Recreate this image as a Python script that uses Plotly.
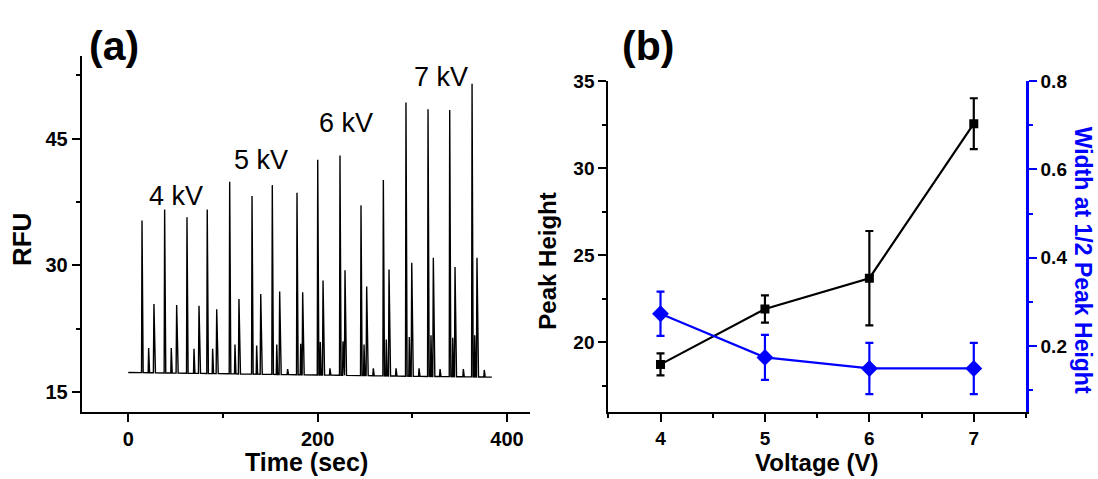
import numpy as np
import plotly.graph_objects as go

# ---------------- Panel (a) data: electropherogram peaks ----------------
major_t = [14.5, 38.4, 62.0, 83.4, 107.1, 130.7, 152.1, 178.2, 200.1, 223.6, 245.8, 269.4, 293.3, 316.6, 339.5, 363.1]
major_h = [35.3, 36.6, 35.7, 36.6, 39.9, 38.2, 39.5, 38.6, 42.5, 43.0, 37.1, 40.1, 49.3, 48.5, 48.4, 51.5]
medium_t = [27.1, 51.1, 74.7, 93.4, 116.9, 139.9, 159.9, 184.2, 205.7, 228.9, 251.8, 275.4, 299.4, 322.2, 345.1, 368.3]
medium_h = [25.4, 25.3, 25.2, 24.8, 26.0, 26.6, 26.9, 26.8, 28.2, 29.4, 27.5, 29.5, 30.3, 30.9, 29.8, 30.9]
small_t = [21.5, 45.4, 69.4, 89.1, 112.7, 135.6, 156.8, 182.1, 202.8, 226.8, 249.0, 272.5, 296.8, 319.7, 342.7, 365.9]
small_h = [20.2, 20.2, 20.1, 20.1, 20.6, 20.5, 20.6, 20.7, 20.9, 21.0, 20.6, 21.2, 21.5, 21.7, 21.4, 21.7]
tiny_t = [168.3, 213.0, 258.8, 282.8, 307.1, 329.3, 353.9, 376.0]
tiny_h = [17.7, 17.8, 17.8, 17.8, 17.8, 17.7, 17.7, 17.6]
base_t = [0, 100, 200, 300, 384]
base_rfu = [17.3, 17.15, 17.0, 16.85, 16.75]

kv_labels = ["4 kV", "5 kV", "6 kV", "7 kV"]
kv_label_t = [50.0, 140.0, 230.0, 330.0]
kv_label_rfu = [38.2, 42.5, 46.9, 52.3]

# ---------------- Panel (b) data ----------------
voltage = [4, 5, 6, 7]
peak_height = [18.74, 21.92, 23.69, 32.56]
peak_height_err = [0.63, 0.78, 2.71, 1.46]
width_half = [0.273, 0.174, 0.149, 0.149]
width_half_err = [0.050, 0.051, 0.058, 0.058]

# ---------------- build trace (a) ----------------
events = []
for t, h in zip(major_t, major_h):
    events.append((t, h, 0.5, 1.2))
for t, h in zip(medium_t, medium_h):
    events.append((t, h, 0.6, 1.6))
for t, h in zip(small_t, small_h):
    events.append((t, h, 0.5, 1.0))
for t, h in zip(tiny_t, tiny_h):
    events.append((t, h, 0.5, 1.0))
events.sort(key=lambda e: e[0])

tx = [base_t[0]]
ty = [base_rfu[0]]
for t, h, r, f in events:
    b = float(np.interp(t, base_t, base_rfu))
    tx += [t - r, t, t + f]
    ty += [b, h, b]
tx.append(base_t[-1])
ty.append(base_rfu[-1])

W, H = 1098, 479
def px(x): return x / W
def py(y): return 1 - y / H

FONT = "Liberation Sans, Arial, Helvetica, sans-serif"

fig = go.Figure()
fig.add_trace(go.Scatter(x=tx, y=ty, mode="lines", line=dict(color="black", width=1.4),
                         xaxis="x", yaxis="y", showlegend=False, hoverinfo="skip"))

fig.add_trace(go.Scatter(x=voltage, y=peak_height, mode="lines+markers",
                         line=dict(color="black", width=2.2),
                         marker=dict(symbol="square", size=9, color="black"),
                         error_y=dict(type="data", array=peak_height_err, color="black",
                                      thickness=2.2, width=4),
                         xaxis="x2", yaxis="y2", showlegend=False))
fig.add_trace(go.Scatter(x=voltage, y=width_half, mode="lines+markers",
                         line=dict(color="#0000FF", width=2.2),
                         marker=dict(symbol="diamond", size=13, color="#0000FF"),
                         error_y=dict(type="data", array=width_half_err, color="#0000FF",
                                      thickness=2.2, width=4),
                         xaxis="x2", yaxis="y3", showlegend=False))

tickfont = dict(family=FONT, size=20, color="black", weight="bold")
tickfont_b = dict(family=FONT, size=19, color="black", weight="bold")
ax_common = dict(showgrid=False, zeroline=False, showline=True, linewidth=2,
                 linecolor="black", ticks="outside", ticklen=8, tickwidth=2, tickcolor="black")

fig.update_layout(
    width=W, height=H, margin=dict(l=0, r=0, t=0, b=0),
    paper_bgcolor="white", plot_bgcolor="white",
    xaxis=dict(domain=[px(81.7), px(530)], range=[-49.2, 424.3], anchor="y",
               tickvals=[0, 200, 400], tickfont=tickfont,
               minor=dict(tickvals=[100, 300], ticks="outside", ticklen=4, tickwidth=2, tickcolor="black"),
               **ax_common),
    yaxis=dict(domain=[py(410.7), py(47)], range=[12.6, 54.8], anchor="x",
               tickvals=[15, 30, 45], tickfont=tickfont,
               minor=dict(tickvals=[22.5, 37.5, 52.5], ticks="outside", ticklen=4, tickwidth=2, tickcolor="black"),
               **ax_common),
    xaxis2=dict(domain=[px(608.3), px(1026)], range=[3.5, 7.5], anchor="y2",
                tickvals=[4, 5, 6, 7], tickfont=tickfont_b,
                minor=dict(tickvals=[3.5, 4.5, 5.5, 6.5, 7.5], ticks="outside", ticklen=4, tickwidth=2, tickcolor="black"),
                **ax_common),
    yaxis2=dict(domain=[py(410.7), py(72.7)], range=[16, 35], anchor="x2",
                tickvals=[20, 25, 30, 35], tickfont=tickfont_b,
                minor=dict(tickvals=[17.5, 22.5, 27.5, 32.5], ticks="outside", ticklen=4, tickwidth=2, tickcolor="black"),
                **ax_common),
    yaxis3=dict(range=[0.05, 0.8], overlaying="y2", side="right", anchor="x2",
                tickvals=[0.2, 0.4, 0.6, 0.8], ticktext=["0.2", "0.4", "0.6", "0.8"], tickfont=tickfont_b,
                minor=dict(tickvals=[0.1, 0.3, 0.5, 0.7], ticks="outside", ticklen=4, tickwidth=2, tickcolor="#0000FF"),
                showgrid=False, zeroline=False, showline=True, linewidth=2.5, linecolor="#0000FF",
                ticks="outside", ticklen=8, tickwidth=2, tickcolor="#0000FF"),
)

for txt, t, r in zip(kv_labels, kv_label_t, kv_label_rfu):
    fig.add_annotation(x=t, y=r, xref="x", yref="y", text=txt, showarrow=False,
                       font=dict(family=FONT, size=27, color="black"))

def ann(text, x, y, size, angle=0, color="black"):
    fig.add_annotation(x=px(x), y=py(y), xref="paper", yref="paper", text=text,
                       showarrow=False, textangle=angle, xanchor="center", yanchor="middle",
                       font=dict(family=FONT, size=size, color=color, weight="bold"))

ann("(a)", 114, 37, 41)
ann("(b)", 648, 37, 41)
ann("RFU", 22, 235, 26, -90)
ann("Time (sec)", 306, 462, 25)
ann("Peak Height", 548, 257, 24, -90)
ann("Voltage (V)", 817, 462, 24)
ann("Width at 1/2 Peak Height", 1083, 255, 23, 90, "#0000FF")

fig.write_html("out.html", config={"displayModeBar": False},
               post_script="document.body.style.margin='0';document.body.style.overflow='hidden';")
